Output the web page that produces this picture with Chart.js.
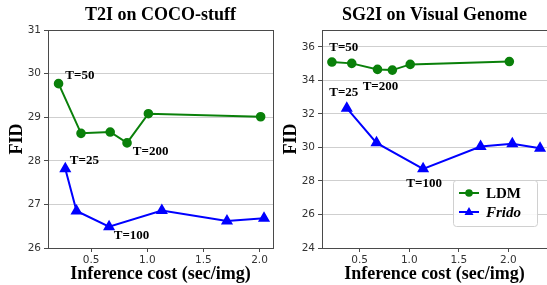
<!DOCTYPE html>
<html lang="en">
<head>
<meta charset="UTF-8" />
<title>Inference cost vs FID</title>
<script src="https://cdn.jsdelivr.net/npm/chart.js"></script>
<style>
  html, body { margin: 0; padding: 0; background: #fff; overflow: hidden; }
  .panel { position: absolute; top: 0; }
  #left { left: 0; }
  #right { left: 270px; }
</style>
</head>
<body>
<div class="panel" id="left"><canvas id="cocoChart" width="280" height="285"></canvas></div>
<div class="panel" id="right"><canvas id="vgChart" width="290" height="285"></canvas></div>

<script>
// ---- data ----
const seriesNames = ['LDM', 'Frido'];
const costTicks = [0.5, 1.0, 1.5, 2.0];

// T2I on COCO-stuff
const cocoCostLDM   = [0.21, 0.41, 0.67, 0.82, 1.01, 2.01];
const cocoFidLDM    = [29.77, 28.63, 28.66, 28.41, 29.08, 29.01];
const cocoCostFrido = [0.27, 0.37, 0.66, 1.13, 1.71, 2.04];
const cocoFidFrido  = [27.82, 26.85, 26.49, 26.86, 26.62, 26.68];
const cocoFidTicks  = [26, 27, 28, 29, 30, 31];
const cocoNoteText  = ['T=50', 'T=200', 'T=25', 'T=100'];
const cocoNoteX     = [0.40, 1.03, 0.44, 0.86];
const cocoNoteY     = [29.95, 28.22, 28.0, 26.28];

// SG2I on Visual Genome
const vgCostLDM   = [0.22, 0.42, 0.68, 0.83, 1.01, 2.01];
const vgFidLDM    = [35.09, 35.01, 34.65, 34.61, 34.95, 35.12];
const vgCostFrido = [0.37, 0.67, 1.14, 1.72, 2.04, 2.32];
const vgFidFrido  = [32.34, 30.27, 28.72, 30.05, 30.21, 29.95];
const vgFidTicks  = [24, 26, 28, 30, 32, 34, 36];
const vgNoteText  = ['T=50', 'T=200', 'T=25', 'T=100'];
const vgNoteX     = [0.34, 0.71, 0.34, 1.15];
const vgNoteY     = [35.92, 33.65, 33.24, 27.86];

const GREEN = '#0a800a';
const BLUE = '#0000ff';
const SERIF = '"Liberation Serif", "Times New Roman", serif';
const SANS = '"DejaVu Sans", sans-serif';

function pts(xs, ys) {
  return xs.map((x, i) => ({ x: x, y: ys[i] }));
}

// titles, T= notes, frame and inset legend
const panelDecor = {
  id: 'panelDecor',
  afterDatasetsDraw(chart, args, opts) {
    const ctx = chart.ctx;
    const a = chart.chartArea;
    const xs = chart.scales.x, ys = chart.scales.y;
    ctx.save();

    // frame
    ctx.strokeStyle = '#4a4a4a';
    ctx.lineWidth = 1;
    ctx.strokeRect(Math.round(a.left) + 0.5, Math.round(a.top) + 0.5,
                   Math.round(a.right - a.left), Math.round(a.bottom - a.top));

    // title
    ctx.fillStyle = '#000';
    ctx.font = 'bold 18px ' + SERIF;
    ctx.textAlign = 'center';
    ctx.textBaseline = 'middle';
    ctx.fillText(opts.title, (a.left + a.right) / 2, 15);

    // annotations
    ctx.font = 'bold 13px ' + SERIF;
    opts.noteText.forEach((t, i) => {
      ctx.fillText(t, xs.getPixelForValue(opts.noteX[i]), ys.getPixelForValue(opts.noteY[i]));
    });

    // legend
    if (opts.legend) {
      const w = 84, h = 46;
      const lx = a.right - 10 - w, ly = a.bottom - 22 - h;
      ctx.fillStyle = 'rgba(255,255,255,0.85)';
      ctx.strokeStyle = '#d0d0d0';
      ctx.beginPath();
      ctx.roundRect(lx + 0.5, ly + 0.5, w, h, 3);
      ctx.fill();
      ctx.stroke();
      chart.data.datasets.forEach((ds, i) => {
        const cy = ly + 13 + i * 19;
        ctx.strokeStyle = ds.borderColor;
        ctx.lineWidth = 2;
        ctx.beginPath();
        ctx.moveTo(lx + 6, cy);
        ctx.lineTo(lx + 26, cy);
        ctx.stroke();
        ctx.fillStyle = ds.borderColor;
        ctx.beginPath();
        if (ds.pointStyle === 'triangle') {
          ctx.moveTo(lx + 16, cy - 5);
          ctx.lineTo(lx + 20.5, cy + 3);
          ctx.lineTo(lx + 11.5, cy + 3);
          ctx.closePath();
        } else {
          ctx.arc(lx + 16, cy, 3.8, 0, Math.PI * 2);
        }
        ctx.fill();
        ctx.fillStyle = '#000';
        ctx.textAlign = 'left';
        ctx.font = (i === 1 ? 'italic ' : '') + 'bold 15px ' + SERIF;
        ctx.fillText(ds.label, lx + 33, cy + 1);
      });
    }
    ctx.restore();
  }
};

function makeChart(canvasId, cfg) {
  return new Chart(document.getElementById(canvasId), {
    type: 'line',
    data: {
      datasets: [
        {
          label: seriesNames[0],
          data: pts(cfg.ldmX, cfg.ldmY),
          borderColor: GREEN,
          backgroundColor: GREEN,
          borderWidth: 2,
          pointStyle: 'circle',
          pointRadius: 3.8,
          pointHoverRadius: 3.8,
          tension: 0
        },
        {
          label: seriesNames[1],
          data: pts(cfg.fridoX, cfg.fridoY),
          borderColor: BLUE,
          backgroundColor: BLUE,
          borderWidth: 2,
          pointStyle: 'triangle',
          pointRadius: 5,
          pointHoverRadius: 5,
          tension: 0
        }
      ]
    },
    options: {
      responsive: false,
      animation: false,
      layout: { padding: { top: 30, right: cfg.padRight, left: 0, bottom: 0 } },
      plugins: {
        legend: { display: false },
        tooltip: { enabled: false },
        title: { display: false },
        panelDecor: {
          title: cfg.title,
          noteText: cfg.noteText, noteX: cfg.noteX, noteY: cfg.noteY,
          legend: cfg.legend
        }
      },
      scales: {
        x: {
          type: 'linear',
          min: cfg.xMin,
          max: cfg.xMax,
          afterBuildTicks: s => { s.ticks = costTicks.map(v => ({ value: v })); },
          afterFit: s => { s.height = 37; },
          ticks: {
            color: '#333',
            font: { family: SANS, size: 10.5 },
            padding: 2,
            maxRotation: 0,
            callback: v => v.toFixed(1)
          },
          grid: { drawOnChartArea: false, tickLength: 4, tickColor: '#4a4a4a' },
          border: { display: false },
          title: {
            display: true,
            text: 'Inference cost (sec/img)',
            color: '#000',
            font: { family: SERIF, size: 18, weight: 'bold' },
            padding: { top: 0, bottom: 0 }
          }
        },
        y: {
          type: 'linear',
          min: cfg.yMin,
          max: cfg.yMax,
          afterBuildTicks: s => { s.ticks = cfg.yTicks.map(v => ({ value: v })); },
          afterFit: s => { s.width = cfg.yWidth; },
          ticks: {
            color: '#333',
            font: { family: SANS, size: 10.5 },
            padding: 3
          },
          grid: { color: '#cfcfcf', lineWidth: 1, tickLength: 4, tickColor: '#4a4a4a' },
          border: { display: false },
          title: {
            display: true,
            text: 'FID',
            color: '#000',
            font: { family: SERIF, size: 18, weight: 'bold' },
            padding: { top: cfg.yTitlePad, bottom: 0 }
          }
        }
      }
    },
    plugins: [panelDecor]
  });
}

makeChart('cocoChart', {
  title: 'T2I on COCO-stuff',
  ldmX: cocoCostLDM, ldmY: cocoFidLDM,
  fridoX: cocoCostFrido, fridoY: cocoFidFrido,
  yTicks: cocoFidTicks, yMin: 26, yMax: 31,
  xMin: 0.116, xMax: 2.12,
  yWidth: 48, padRight: 4, yTitlePad: 6.2,
  noteText: cocoNoteText, noteX: cocoNoteX, noteY: cocoNoteY,
  legend: false
});

makeChart('vgChart', {
  title: 'SG2I on Visual Genome',
  ldmX: vgCostLDM, ldmY: vgFidLDM,
  fridoX: vgCostFrido, fridoY: vgFidFrido,
  yTicks: vgFidTicks, yMin: 24, yMax: 37,
  xMin: 0.12, xMax: 2.39,
  yWidth: 52, padRight: 13, yTitlePad: 10.2,
  noteText: vgNoteText, noteX: vgNoteX, noteY: vgNoteY,
  legend: true
});
</script>
</body>
</html>
